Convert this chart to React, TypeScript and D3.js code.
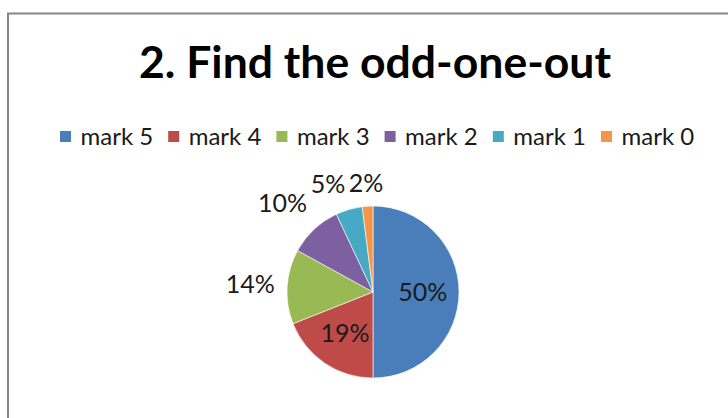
import * as React from "react"
import * as d3 from "d3"

const title = "2. Find the odd-one-out"
const categories = ["mark 5", "mark 4", "mark 3", "mark 2", "mark 1", "mark 0"]
const shares = [50, 19, 14, 10, 5, 2]
const colors = ["#4A7EBB", "#BE4B48", "#98B954", "#7D60A0", "#46AAC5", "#F59547"]

const W = 728
const H = 418
const FONT = "Lato, 'Open Sans', sans-serif"

export default function App(): React.JSX.Element {
  const cx = 373
  const cy = 292
  const r = 86
  const labelSize = 25

  const pie = d3.pie<number>().sort(null).value((d) => d)
  const arcs = pie(shares)
  const arc = d3.arc<d3.PieArcDatum<number>>().innerRadius(0).outerRadius(r)
  const total = d3.sum(shares)

  // label placement: inside for big slices, outside (best fit) for small ones
  const labels = arcs.map((a) => {
    const mid = (a.startAngle + a.endAngle) / 2
    const ux = Math.sin(mid)
    const uy = -Math.cos(mid)
    const pct = a.value / total
    const text = `${Math.round(pct * 100)}%`
    const hw = text.length * labelSize * 0.3
    const hh = labelSize * 0.34
    let dist = r * 0.58
    if (pct < 0.15) dist = r + 14 + Math.abs(ux) * hw + Math.abs(uy) * hh
    return { text, x: ux * dist, y: uy * dist, hw, hh, outside: pct < 0.15 }
  })

  // push crowded outside labels apart (walk back from the top)
  for (let i = labels.length - 2; i >= 0; i--) {
    const a = labels[i]
    const b = labels[i + 1]
    if (!a.outside || !b.outside) continue
    const near = Math.abs(a.y - b.y) < a.hh + b.hh + 6
    if (near && a.x + a.hw > b.x - b.hw - 8) a.x = b.x - b.hw - 8 - a.hw
  }

  const legendX = d3
    .scaleBand<string>()
    .domain(categories)
    .range([60, 60 + 108.2 * categories.length])

  return (
    <svg
      width={W}
      height={H}
      style={{ position: "absolute", left: 0, top: 0, background: "#fff" }}
    >
      <rect x={8} y={13.5} width={W + 50} height={H + 50} fill="#fff" stroke="#868686" strokeWidth={2} />
      <text
        x={375}
        y={78}
        textAnchor="middle"
        fontFamily={FONT}
        fontWeight="bold"
        fontSize={44.5}
        fill="#000"
      >
        {title}
      </text>

      <g>
        {categories.map((c, i) => (
          <g key={c} transform={`translate(${legendX(c)},0)`}>
            <rect x={0} y={131} width={11} height={11} fill={colors[i]} />
            <text x={20.5} y={145} fontFamily={FONT} fontSize={24} fill="#1a1a1a">
              {c}
            </text>
          </g>
        ))}
      </g>

      <g transform={`translate(${cx},${cy})`}>
        {arcs.map((a, i) => (
          <path key={i} d={arc(a) ?? ""} fill={colors[i]} stroke="#fff" strokeWidth={0.6} />
        ))}
        {labels.map((l, i) => (
          <text
            key={i}
            x={l.x}
            y={l.y}
            dy="0.36em"
            textAnchor="middle"
            fontFamily={FONT}
            fontSize={labelSize}
            fill="#1a1a1a"
          >
            {l.text}
          </text>
        ))}
      </g>
    </svg>
  )
}
